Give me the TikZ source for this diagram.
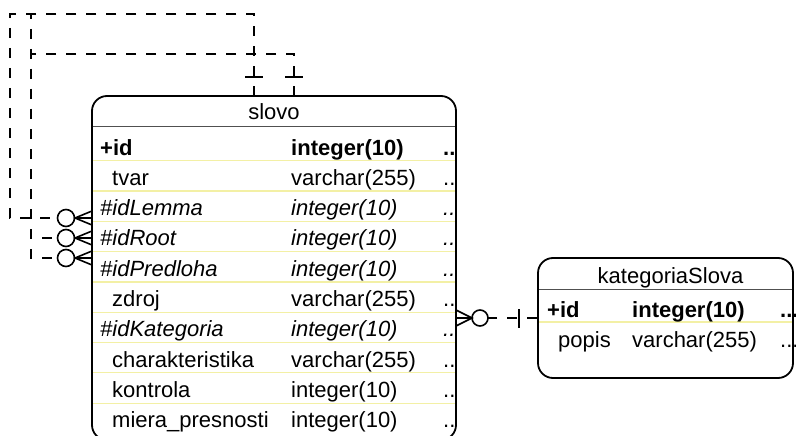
\documentclass[tikz,border=0pt]{standalone}
\usepackage{fontspec}
\setmainfont{Liberation Sans}
\definecolor{rowyellow}{RGB}{243,240,165}
\definecolor{headgray}{RGB}{80,80,80}
\newcommand{\tabfont}{\fontsize{22}{26}\selectfont}
\tikzstyle{entity} = [rectangle, rounded corners=15pt, draw=black, line width=1.8pt, fill=white, inner sep=0pt]
\tikzstyle{entitytitle} = [anchor=base, inner sep=0pt, font=\tabfont]
\tikzstyle{cell} = [anchor=base west, inner sep=0pt]
\tikzstyle{pk} = [cell, font=\bfseries\tabfont]
\tikzstyle{fk} = [cell, font=\itshape\tabfont]
\tikzstyle{attr} = [cell, font=\tabfont]
\tikzstyle{headsep} = [draw=headgray, line width=1pt]
\tikzstyle{rowsep} = [draw=rowyellow, line width=1.2pt]
\tikzstyle{rel} = [line width=1.8pt, dash pattern=on 10pt off 10pt]
\tikzstyle{foot} = [line width=1.6pt]
\begin{document}
\begin{tikzpicture}[x=1pt, y=-1pt]
	\path [fill=white, use as bounding box] (0,0) rectangle (796,436);

	% slovo
	\node (slovo) [entity, minimum width=364pt, minimum height=344pt] at (274,268) {};
	\node (slovoTitle) [entitytitle] at (274,120) {slovo};
	\draw [headsep] (93,126) -- (455,126);
	\foreach \i in {0,...,8}
		\draw [rowsep] (93,160.7+30.3*\i) -- (455,160.7+30.3*\i);
	\foreach \i/\dx/\nm/\ty/\st in {0/0/+id/integer(10)/pk,
			1/12/tvar/varchar(255)/attr,
			2/0/\#idLemma/integer(10)/fk,
			3/0/\#idRoot/integer(10)/fk,
			4/0/\#idPredloha/integer(10)/fk,
			5/12/zdroj/varchar(255)/attr,
			6/0/\#idKategoria/integer(10)/fk,
			7/12/charakteristika/varchar(255)/attr,
			8/12/kontrola/integer(10)/attr,
			9/12/miera\_presnosti/integer(10)/attr}{
		\node (name\i) [\st] at (100+\dx,155+30.3*\i) {\nm};
		\node (type\i) [\st] at (291,155+30.3*\i) {\ty};
		\node (more\i) [\st] at (443,155+30.3*\i) {..};
	}

	% kategoriaSlova
	\node (kat) [entity, minimum width=255pt, minimum height=120pt] at (665.5,318) {};
	\node (katTitle) [entitytitle] at (670.5,283) {kategoriaSlova};
	\draw [headsep] (539,289) -- (792,289);
	\draw [rowsep] (539,322) -- (792,322);
	\node (katName0) [pk] at (547,317) {+id};
	\node (katType0) [pk] at (632,317) {integer(10)};
	\node (katMore0) [pk] at (780,317) {...};
	\node (katName1) [attr] at (558,347) {popis};
	\node (katType1) [attr] at (632,347) {varchar(255)};
	\node (katMore1) [attr] at (780,347) {...};

	% slovo -- kategoriaSlova
	\coordinate (katMany) at (488,318);
	\draw [rel] (kat.west) -- (katMany);
	\draw [foot] (480,318) circle [radius=8pt];
	\draw [foot] (456,310) -- (472,318) -- (456,326) (456,318) -- (472,318);
	\draw [foot] (519,309) -- (519,328);

	% slovo -- slovo
	\coordinate (slovoOneA) at (254,96);
	\coordinate (slovoOneB) at (294,96);
	\coordinate (lemmaMany) at (57.5,218);
	\coordinate (rootMany) at (57.5,238);
	\coordinate (predlohaMany) at (57.5,258);
	\draw [rel] (slovoOneA) -- (254,14) -- (10,14) -- (10,218) -- (lemmaMany);
	\draw [rel] (slovoOneA) -- (254,14) -- (31,14) -- (31,238) -- (rootMany);
	\draw [rel] (slovoOneB) -- (294,54) -- (31,54) -- (31,258) -- (predlohaMany);
	\draw [foot] (245,77) -- (263,77) (285,77) -- (303,77);
	\foreach \y in {218,238,258}{
		\draw [foot] (66,\y) circle [radius=8.5pt];
		\draw [foot] (92,\y-7) -- (75,\y) -- (92,\y+7) (75,\y) -- (92,\y);
	}

\end{tikzpicture}
\end{document}
